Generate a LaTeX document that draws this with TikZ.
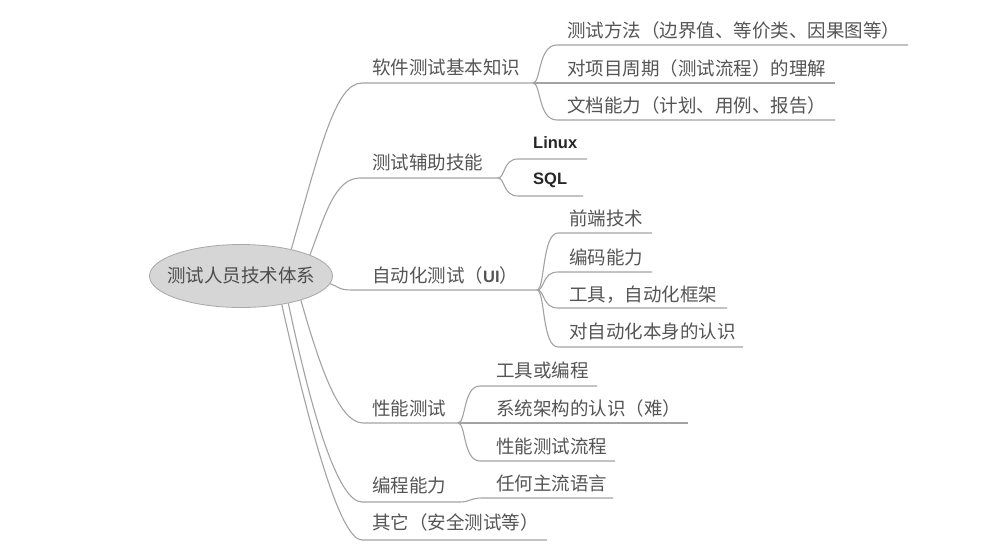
\documentclass[tikz,border=0pt]{standalone}
\usepackage{fontspec}
\newfontfamily\cjk{Noto Sans CJK SC}
\newfontfamily\lat{Liberation Sans}
\usetikzlibrary{shapes.geometric}
\definecolor{linegray}{HTML}{A3A3A3}
\definecolor{textgray}{HTML}{555555}
\definecolor{rootfill}{HTML}{D6D6D6}
\definecolor{rootdraw}{HTML}{A8A8A8}
\begin{document}
\begin{tikzpicture}[x=1pt,y=-1pt,
  ln/.style={draw=linegray, line width=1.1pt},
  lbl/.style={anchor=west, inner sep=0pt, text=textgray, font=\cjk\fontsize{18.5}{19}\selectfont},
  latlbl/.style={anchor=west, inner sep=0pt, text=black!85, font=\lat\bfseries\fontsize{16.5}{18}\selectfont},
  rootnode/.style={ellipse, fill=rootfill, draw=rootdraw, line width=0.8pt, minimum width=183pt, minimum height=63pt, inner sep=0pt, text=textgray!90!black, font=\cjk\fontsize{18.5}{19}\selectfont}
]
\fill[white] (0,0) rectangle (996,557);
\useasboundingbox (0,0) rectangle (996,557);

% root
\node[rootnode] (root) at (241,276) {\makebox[100pt]{测试人员技术体系}};

% level-1 labels
\node[lbl] (b1) at (372,67) {软件测试基本知识};
\node[lbl] (b2) at (372,162) {测试辅助技能};
\node[lbl] (b3) at (372,275) {自动化测试（{\lat\bfseries\fontsize{16.5}{18}\selectfont UI}）};
\node[lbl] (b4) at (372,408) {性能测试};
\node[lbl] (b5) at (372,485) {编程能力};
\node[lbl] (b6) at (372,522) {其它（安全测试等）};

% level-1 corners and junctions
\coordinate (c1) at (362,83);  \coordinate (j1) at (533,83);
\coordinate (c2) at (360,178); \coordinate (j2) at (498,178);
\coordinate (c3) at (352,290); \coordinate (j3) at (537,290);
\coordinate (c4) at (363,423); \coordinate (j4) at (458,423);
\coordinate (c5) at (362,502); \coordinate (j5) at (460,502);
\coordinate (c6) at (362,540); \coordinate (e6) at (547,540);

\draw[ln] (root.28) .. controls (320,150) and (335,83) .. (c1) -- (j1);
\draw[ln] (root.17) .. controls (325,215) and (335,178) .. (c2) -- (j2);
\draw[ln] (root.-5) .. controls (340,287) and (338,290) .. (c3) -- (j3);
\draw[ln] (root.-22) .. controls (318,360) and (338,423) .. (c4) -- (j4);
\draw[ln] (root.-30) .. controls (312,415) and (338,502) .. (c5) -- (j5);
\draw[ln] (root.-35) .. controls (310,430) and (340,540) .. (c6) -- (e6);

% branch 1 subs
\node[lbl] (s11) at (567,30) {测试方法（边界值、等价类、因果图等）};
\node[lbl] (s12) at (567,68) {对项目周期（测试流程）的理解};
\node[lbl] (s13) at (567,105) {文档能力（计划、用例、报告）};
\coordinate (t11) at (557,45);  \coordinate (e11) at (908,45);
\coordinate (e12) at (835,83);
\coordinate (t13) at (557,120); \coordinate (e13) at (835,120);
\draw[ln] (j1) .. controls (541,83) and (538,45) .. (t11) -- (e11);
\draw[ln] (j1) -- (e12);
\draw[ln] (j1) .. controls (541,83) and (538,120) .. (t13) -- (e13);

% branch 2 subs
\node[latlbl] (s21) at (533,143) {Linux};
\node[latlbl] (s22) at (533,180) {SQL};
\coordinate (t21) at (518,159); \coordinate (e21) at (587,159);
\coordinate (t22) at (518,196); \coordinate (e22) at (583,196);
\draw[ln] (j2) .. controls (505,178) and (503,159) .. (t21) -- (e21);
\draw[ln] (j2) .. controls (505,178) and (503,196) .. (t22) -- (e22);

% branch 3 subs
\node[lbl] (s31) at (569,218) {前端技术};
\node[lbl] (s32) at (569,257) {编码能力};
\node[lbl] (s33) at (569,295) {工具，自动化框架};
\node[lbl] (s34) at (569,332) {对自动化本身的认识};
\coordinate (t31) at (558,233); \coordinate (e31) at (652,233);
\coordinate (t32) at (558,272); \coordinate (e32) at (652,272);
\coordinate (t33) at (558,308); \coordinate (e33) at (727,308);
\coordinate (t34) at (558,347); \coordinate (e34) at (743,347);
\draw[ln] (j3) .. controls (545,290) and (542,233) .. (t31) -- (e31);
\draw[ln] (j3) .. controls (545,290) and (542,272) .. (t32) -- (e32);
\draw[ln] (j3) .. controls (545,290) and (542,308) .. (t33) -- (e33);
\draw[ln] (j3) .. controls (545,290) and (542,347) .. (t34) -- (e34);

% branch 4 subs
\node[lbl] (s41) at (496,370) {工具或编程};
\node[lbl] (s42) at (496,408) {系统架构的认识（难）};
\node[lbl] (s43) at (496,446) {性能测试流程};
\coordinate (t41) at (480,386); \coordinate (e41) at (597,386);
\coordinate (e42) at (688,423);
\coordinate (t43) at (480,461); \coordinate (e43) at (615,461);
\draw[ln] (j4) .. controls (466,423) and (463,386) .. (t41) -- (e41);
\draw[ln] (j4) -- (e42);
\draw[ln] (j4) .. controls (466,423) and (463,461) .. (t43) -- (e43);

% branch 5 sub
\node[lbl] (s51) at (496,483) {任何主流语言};
\coordinate (t51) at (482,498); \coordinate (e51) at (613,498);
\draw[ln] (j5) .. controls (470,502) and (470,498) .. (t51) -- (e51);
\end{tikzpicture}
\end{document}
